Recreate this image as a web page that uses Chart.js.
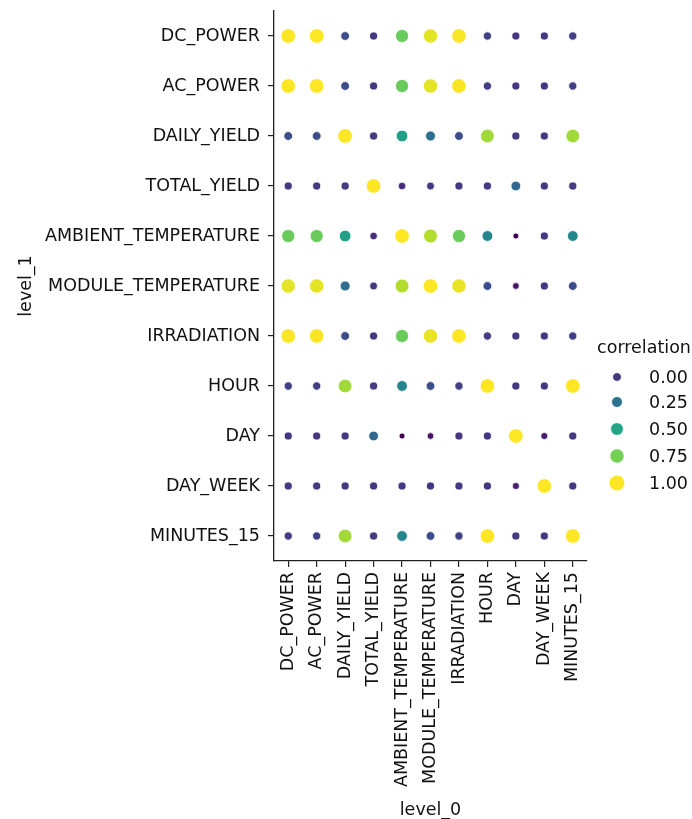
<!DOCTYPE html>
<html>
<head>
<meta charset="utf-8">
<script src="https://cdn.jsdelivr.net/npm/chart.js@4.4.1/dist/chart.umd.min.js"></script>
<style>
  html, body { margin: 0; padding: 0; background: #fff; }
  #wrap { width: 692px; height: 819px; }
</style>
</head>
<body>
<div id="wrap"><canvas id="corrChart"></canvas></div>
<script>
// Variables (same order on both axes)
const variables = ['DC_POWER', 'AC_POWER', 'DAILY_YIELD', 'TOTAL_YIELD', 'AMBIENT_TEMPERATURE',
    'MODULE_TEMPERATURE', 'IRRADIATION', 'HOUR', 'DAY', 'DAY_WEEK', 'MINUTES_15'];

// Correlation rows (level_1)
const dcPower     = [1.00, 1.00, 0.08, 0.00, 0.72, 0.95, 0.99, 0.02, -0.01, 0.00, 0.02];
const acPower     = [1.00, 1.00, 0.08, 0.00, 0.72, 0.95, 0.99, 0.02, -0.01, 0.00, 0.02];
const dailyYield  = [0.08, 0.08, 1.00, 0.01, 0.48, 0.24, 0.08, 0.83, 0.00, 0.00, 0.83];
const totalYield  = [0.00, 0.00, 0.01, 1.00, -0.05, -0.02, 0.00, 0.01, 0.20, 0.00, 0.01];
const ambientTemp = [0.72, 0.72, 0.48, -0.05, 1.00, 0.86, 0.72, 0.34, -0.20, 0.00, 0.34];
const moduleTemp  = [0.95, 0.95, 0.24, -0.02, 0.86, 1.00, 0.96, 0.08, -0.13, 0.00, 0.08];
const irradiation = [0.99, 0.99, 0.08, 0.00, 0.72, 0.96, 1.00, 0.02, -0.01, 0.00, 0.02];
const hour        = [0.02, 0.02, 0.83, 0.01, 0.34, 0.08, 0.02, 1.00, 0.00, 0.00, 1.00];
const day         = [-0.01, -0.01, 0.00, 0.20, -0.20, -0.13, -0.01, 0.00, 1.00, -0.10, 0.00];
const dayWeek     = [0.00, 0.00, 0.00, 0.00, 0.00, 0.00, 0.00, 0.00, -0.10, 1.00, 0.00];
const minutes15   = [0.02, 0.02, 0.83, 0.01, 0.34, 0.08, 0.02, 1.00, 0.00, 0.00, 1.00];

const rows = [dcPower, acPower, dailyYield, totalYield, ambientTemp, moduleTemp,
    irradiation, hour, day, dayWeek, minutes15];

// Legend entries
const legendValues = [0.00, 0.25, 0.50, 0.75, 1.00];
const legendLabels = ['0.00', '0.25', '0.50', '0.75', '1.00'];

// Viridis colour map stops
const viridis = ['#440154', '#482475', '#414487', '#355f8d', '#2a788e', '#21918c',
    '#22a884', '#44bf70', '#7ad151', '#bddf26', '#fde725'];

const allValues = rows.flat();
const vMin = Math.min(...allValues);
const vMax = Math.max(...allValues);

function hexToRgb(h) {
    return [parseInt(h.slice(1, 3), 16), parseInt(h.slice(3, 5), 16), parseInt(h.slice(5, 7), 16)];
}

function colorFor(v) {
    let t = (v - vMin) / (vMax - vMin);
    t = Math.max(0, Math.min(1, t));
    const pos = t * (viridis.length - 1);
    const i = Math.min(Math.floor(pos), viridis.length - 2);
    const f = pos - i;
    const a = hexToRgb(viridis[i]);
    const b = hexToRgb(viridis[i + 1]);
    const c = a.map((x, k) => Math.round(x + (b[k] - x) * f));
    return `rgb(${c[0]}, ${c[1]}, ${c[2]})`;
}

// Marker area is linear in the value (like seaborn sizes)
const rMin = 3.0;
const rMax = 7.3;
function radiusFor(v) {
    const t = (v - vMin) / (vMax - vMin);
    return Math.sqrt(rMin * rMin + (rMax * rMax - rMin * rMin) * t);
}

// Build points
const points = [];
rows.forEach((row, yi) => {
    row.forEach((v, xi) => {
        points.push({ x: xi, y: yi, v });
    });
});

const FONT = 'DejaVu Sans';
const FONT_SIZE = 17.5;
const TEXT = '#111';
const AXIS = '#222';

// Draw the seaborn-style legend on the right
const corrLegend = {
    id: 'corrLegend',
    afterDraw(chart) {
        const ctx = chart.ctx;
        ctx.save();
        ctx.font = `${FONT_SIZE}px "${FONT}"`;
        ctx.fillStyle = TEXT;
        ctx.textAlign = 'center';
        ctx.textBaseline = 'middle';
        ctx.fillText('correlation', 644, 348);

        const ys = [377, 402, 429, 456, 483];
        legendValues.forEach((v, i) => {
            ctx.beginPath();
            ctx.arc(617, ys[i], radiusFor(v) * 1.08, 0, Math.PI * 2);
            ctx.fillStyle = colorFor(v);
            ctx.fill();
            ctx.lineWidth = 0.8;
            ctx.strokeStyle = '#fff';
            ctx.stroke();
            ctx.fillStyle = TEXT;
            ctx.textAlign = 'left';
            ctx.fillText(legendLabels[i], 649, ys[i] + 1);
        });
        ctx.restore();
    }
};

Chart.defaults.font.family = FONT;
Chart.defaults.color = TEXT;

const ctx = document.getElementById('corrChart').getContext('2d');
new Chart(ctx, {
    type: 'scatter',
    data: {
        datasets: [{
            label: 'correlation',
            data: points,
            pointRadius: (c) => radiusFor(c.raw.v),
            pointHoverRadius: (c) => radiusFor(c.raw.v),
            backgroundColor: (c) => colorFor(c.raw.v),
            borderColor: '#fff',
            borderWidth: 0.8,
        }],
    },
    options: {
        responsive: true,
        maintainAspectRatio: false,
        animation: false,
        layout: { padding: { left: 0, top: 11, right: 105, bottom: 0 } },
        plugins: {
            legend: { display: false },
            tooltip: { enabled: false },
        },
        scales: {
            x: {
                type: 'linear',
                position: 'bottom',
                min: -0.5,
                max: 10.5,
                afterBuildTicks: (s) => { s.ticks = variables.map((_, i) => ({ value: i })); },
                afterFit: (s) => {
                    s.height = 819 - 561;
                    s.paddingLeft = 0;
                    s.paddingRight = 0;
                },
                ticks: {
                    autoSkip: false,
                    minRotation: 90,
                    maxRotation: 90,
                    padding: 5,
                    color: TEXT,
                    font: { size: FONT_SIZE },
                    callback: (v) => variables[v],
                },
                grid: { drawOnChartArea: false, drawTicks: true, tickLength: 6, color: AXIS, lineWidth: 1.2 },
                border: { display: true, color: AXIS, width: 1.3 },
                title: { display: true, text: 'level_0', color: TEXT, font: { size: FONT_SIZE }, padding: { top: 0, bottom: -2 } },
            },
            y: {
                type: 'linear',
                reverse: true,
                min: -0.5,
                max: 10.5,
                afterBuildTicks: (s) => { s.ticks = variables.map((_, i) => ({ value: i })); },
                afterFit: (s) => {
                    s.width = 274;
                    s.paddingTop = 0;
                    s.paddingBottom = 0;
                },
                ticks: {
                    autoSkip: false,
                    padding: 8,
                    color: TEXT,
                    font: { size: FONT_SIZE },
                    callback: (v) => variables[v],
                },
                grid: { drawOnChartArea: false, drawTicks: true, tickLength: 6, color: AXIS, lineWidth: 1.2 },
                border: { display: true, color: AXIS, width: 1.3 },
                title: { display: true, text: 'level_1', color: TEXT, font: { size: FONT_SIZE }, padding: { top: 16, bottom: 0 } },
            },
        },
    },
    plugins: [corrLegend],
});
</script>
</body>
</html>
